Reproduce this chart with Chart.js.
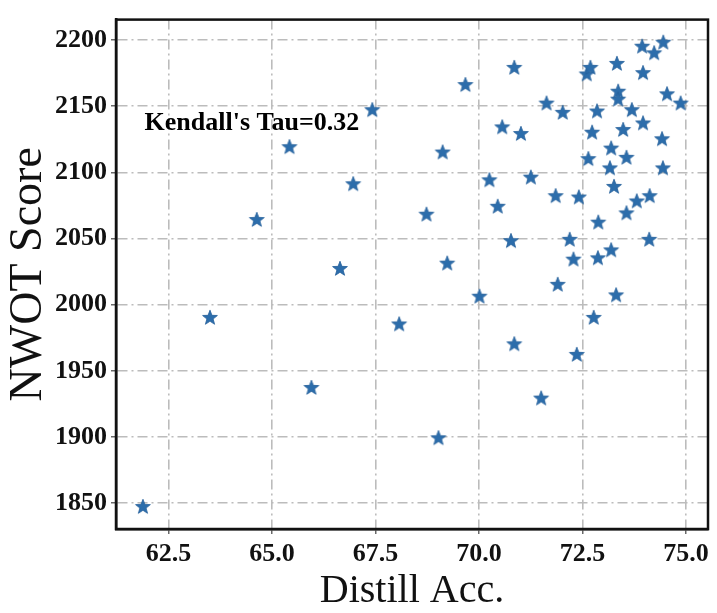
<!DOCTYPE html>
<html>
<head>
<meta charset="utf-8">
<title>NWOT Score vs Distill Acc.</title>
<script src="https://cdn.jsdelivr.net/npm/chart.js@4.4.1/dist/chart.umd.min.js"></script>
<style>
  html, body { margin: 0; padding: 0; background: #fff; }
  #wrap { width: 717px; height: 613px; }
</style>
</head>
<body>
<div id="wrap"><canvas id="scatter" width="717" height="613"></canvas></div>
<script>
"use strict";
// distillation accuracy (x) and NWOT score (y) per model
var distillAcc = [
    61.88, 63.50, 64.63, 65.42, 65.95, 66.64, 66.96, 67.42, 68.07, 68.73,
    69.02, 69.12, 69.23, 69.67, 70.01, 70.25, 70.45, 70.56, 70.77, 70.85,
    70.85, 71.01, 71.25, 71.50, 71.63, 71.85, 71.90, 72.02, 72.19, 72.28,
    72.36, 72.41, 72.60, 72.69, 72.64, 72.73, 72.77, 72.85, 72.87, 72.88,
    73.16, 73.19, 73.19, 73.26, 73.31, 73.33, 73.36, 73.36, 73.48, 73.56,
    73.56, 73.69, 73.81, 73.94, 73.96, 73.96, 74.12, 74.11, 74.23, 74.42,
    74.44, 74.45, 74.54, 74.87
];
var nwotScore = [
    1847, 1990, 2064, 2119, 1937, 2027, 2091, 2147, 1985, 2068,
    1899, 2115, 2031, 2166, 2006, 2094, 2074, 2134, 2048, 2179,
    1970, 2129, 2096, 1929, 2152, 2082, 2015, 2145, 2049, 2034,
    1962, 2081, 2174, 2179, 2110, 2130, 1990, 2146, 2035, 2062,
    2103, 2118, 2041, 2089, 2007, 2182, 2161, 2155, 2132, 2111,
    2069, 2147, 2078, 2195, 2175, 2137, 2082, 2049, 2190, 2125,
    2103, 2198, 2159, 2152
];
var xTickVals = [62.5, 65.0, 67.5, 70.0, 72.5, 75.0];
var yTickVals = [1850, 1900, 1950, 2000, 2050, 2100, 2150, 2200];
var tauText = "Kendall's Tau=0.32";
var tauPos = [61.92, 2137];

var serif = "'Liberation Serif', 'Times New Roman', 'DejaVu Serif', serif";
var starColor = '#2c6dab';

// filled five point star used as the marker image
function makeStar(r) {
    var c = document.createElement('canvas');
    var s = Math.ceil(r * 2) + 2;
    c.width = s;
    c.height = s;
    var g = c.getContext('2d');
    var cx = s / 2, cy = s / 2, inner = r * 0.42;
    g.beginPath();
    for (var i = 0; i < 10; i++) {
        var rad = i % 2 === 0 ? r : inner;
        var a = -Math.PI / 2 + i * Math.PI / 5;
        var px = cx + rad * Math.cos(a), py = cy + rad * Math.sin(a);
        if (i === 0) g.moveTo(px, py); else g.lineTo(px, py);
    }
    g.closePath();
    g.fillStyle = starColor;
    g.fill();
    g.lineWidth = 0.8;
    g.strokeStyle = '#25609a';
    g.stroke();
    return c;
}

var points = distillAcc.map(function (x, i) { return { x: x, y: nwotScore[i] }; });

// black box round the plot and the tau note inside it
var framePlugin = {
    id: 'frameAndNote',
    afterDatasetsDraw: function (chart) {
        var ctx = chart.ctx, a = chart.chartArea;
        var xs = chart.scales.x, ys = chart.scales.y;
        ctx.save();
        ctx.font = 'bold 26px ' + serif;
        ctx.fillStyle = '#000';
        ctx.textAlign = 'left';
        ctx.textBaseline = 'middle';
        ctx.fillText(tauText, xs.getPixelForValue(tauPos[0]), ys.getPixelForValue(tauPos[1]));
        ctx.setLineDash([]);
        ctx.lineWidth = 2.5;
        ctx.strokeStyle = '#111';
        ctx.strokeRect(a.left, a.top, a.right - a.left, a.bottom - a.top);
        ctx.restore();
    }
};

var gridStyle = {
    color: '#bcbcbc',
    lineWidth: 1.6,
    drawTicks: true,
    tickLength: 5,
    tickColor: '#444',
    tickWidth: 1.2,
    tickBorderDash: []
};
// dash-dot pattern for the grid lines (v4 keeps it under border.dash)
var borderStyle = { display: true, color: '#111', width: 2.5, dash: [10, 4, 2, 4] };

new Chart(document.getElementById('scatter'), {
    type: 'scatter',
    data: {
        datasets: [{
            label: 'models',
            data: points,
            pointStyle: makeStar(7.8),
            pointRadius: 8,
            pointHoverRadius: 8
        }]
    },
    options: {
        responsive: false,
        animation: false,
        layout: { padding: { top: 14, right: 6, left: 0, bottom: 0 } },
        plugins: {
            legend: { display: false },
            tooltip: { enabled: false }
        },
        scales: {
            x: {
                type: 'linear',
                min: 61.23,
                max: 75.53,
                grid: gridStyle,
                border: borderStyle,
                ticks: {
                    color: '#111',
                    padding: 5,
                    font: { family: serif, size: 26, weight: 'bold' },
                    callback: function (v) { return Number(v).toFixed(1); }
                },
                afterBuildTicks: function (s) {
                    s.ticks = xTickVals.map(function (v) { return { value: v }; });
                },
                afterFit: function (s) { s.height = 84; },
                title: {
                    display: true,
                    text: 'Distill Acc.',
                    color: '#111',
                    padding: { top: 0, bottom: 2 },
                    font: { family: serif, size: 40, lineHeight: 1 }
                }
            },
            y: {
                type: 'linear',
                min: 1830.4,
                max: 2215.5,
                grid: gridStyle,
                border: borderStyle,
                ticks: {
                    color: '#111',
                    padding: 4,
                    font: { family: serif, size: 26, weight: 'bold' },
                    callback: function (v) { return String(v); }
                },
                afterBuildTicks: function (s) {
                    s.ticks = yTickVals.map(function (v) { return { value: v }; });
                },
                afterFit: function (s) { s.width = 116; },
                title: {
                    display: true,
                    text: 'NWOT Score',
                    color: '#111',
                    padding: { top: 6, bottom: 0 },
                    font: { family: serif, size: 46, lineHeight: 1 }
                }
            }
        }
    },
    plugins: [framePlugin]
});
</script>
</body>
</html>
